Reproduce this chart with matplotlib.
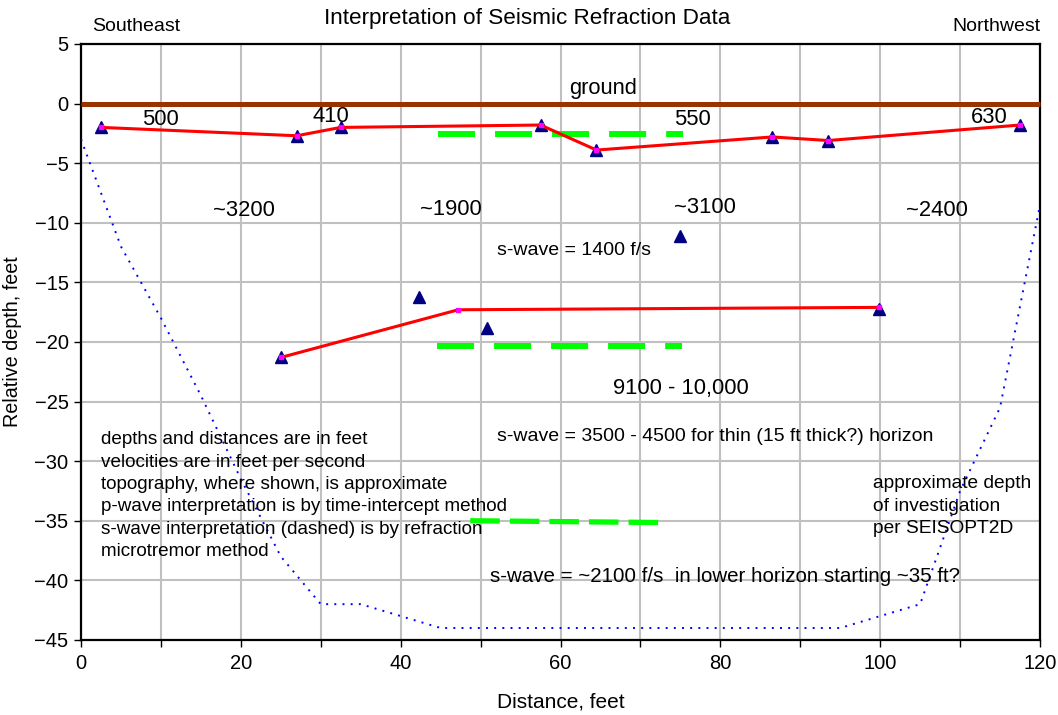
import numpy as np
import matplotlib.pyplot as plt

plt.rcParams['font.family'] = ['Liberation Sans', 'DejaVu Sans']

# ground surface
ground_x = [0, 120]
ground_y = [0, 0]

# p-wave refractor picks (triangles)
picks_x = [2.5, 27.0, 32.5, 57.5, 64.5, 86.5, 93.5, 117.5, 75.0, 42.3, 50.8, 25.0, 99.8]
picks_y = [-2.0, -2.7, -2.0, -1.8, -3.9, -2.8, -3.1, -1.8, -11.1, -16.2, -18.8, -21.3, -17.2]

# interpreted p-wave horizons
upper_x = [2.5, 27.0, 32.5, 57.5, 64.5, 86.5, 93.5, 117.5]
upper_y = [-2.0, -2.7, -2.0, -1.8, -3.9, -2.8, -3.1, -1.8]
lower_x = [25.0, 47.2, 99.8]
lower_y = [-21.3, -17.3, -17.1]

# s-wave horizons (dashed)
swave1_x = [44.7, 75.3]
swave1_y = [-2.55, -2.55]
swave2_x = [44.6, 75.2]
swave2_y = [-20.3, -20.3]
swave3_x = [48.7, 72.3]
swave3_y = [-35.0, -35.15]

# approximate depth of investigation
doi_x = [0, 5, 10, 15, 20, 25, 30, 35, 40, 45, 50, 55, 60, 65, 70, 75, 80, 85, 90, 95,
         100, 105, 110, 115, 120]
doi_y = [-3, -12, -18, -24.5, -31.5, -38, -42, -42, -43, -44, -44, -44, -44, -44, -44, -44,
         -44, -44, -44, -44, -43, -42, -32.5, -25.5, -8.5]

fig = plt.figure(figsize=(10.58, 7.15), dpi=100)
ax = fig.add_axes([0.0766, 0.105, 0.9064, 0.8335])

fs = 14.5

ax.plot(doi_x, doi_y, color='#0000ff', lw=1.4, linestyle=(0, (1, 3.2)), zorder=3)
ax.plot(ground_x, ground_y, color='#993300', lw=3.6, solid_capstyle='butt', zorder=4,
        clip_on=False)
ax.plot(picks_x, picks_y, '^', color='#000080', ms=8.5, zorder=5, linestyle='none')
ax.plot(upper_x, upper_y, color='#ff0000', lw=2.2, marker='s', ms=3, mfc='#ff00ff',
        mec='#ff00ff', zorder=6)
ax.plot(lower_x, lower_y, color='#ff0000', lw=2.2, marker='s', ms=3, mfc='#ff00ff',
        mec='#ff00ff', zorder=6)
ax.plot(swave1_x, swave1_y, color='#00ff00', lw=4.3, linestyle=(0, (6.2, 3.35)),
        dash_capstyle='butt', zorder=4)
ax.plot(swave2_x, swave2_y, color='#00ff00', lw=4.3, linestyle=(0, (6.2, 3.35)),
        dash_capstyle='butt', zorder=4)
ax.plot(swave3_x, swave3_y, color='#00ff00', lw=3.8, linestyle=(0, (5.6, 1.9)),
        dash_capstyle='butt', zorder=4)

ax.set_xlim(0, 120)
ax.set_ylim(-45, 5)
ax.set_xticks(np.arange(0, 121, 20))
ax.set_xticks(np.arange(10, 120, 20), minor=True)
ax.set_yticks(np.arange(-45, 6, 5))
ax.grid(True, which='both', color='#c0c0c0', lw=1.5)
ax.set_axisbelow(True)
ax.tick_params(axis='both', which='both', direction='out', length=5, width=1,
               labelsize=fs, pad=4)
ax.tick_params(axis='x', pad=5)
for s in ax.spines.values():
    s.set_linewidth(1.6)

ax.set_xlabel('Distance, feet', fontsize=15, labelpad=14)
ax.set_ylabel('Relative depth, feet', fontsize=14.2, labelpad=9)

ax.text(1.4, 6.5, 'Southeast', fontsize=14, va='center', ha='left', clip_on=False)
ax.text(120, 6.5, 'Northwest', fontsize=14, va='center', ha='right', clip_on=False)
ax.text(55.8, 7.1, 'Interpretation of Seismic Refraction Data', fontsize=16.2,
        va='center', ha='center', clip_on=False)

labels = [
    (65.3, 1.3, 'ground'),
    (9.9, -1.3, '500'),
    (31.2, -1.1, '410'),
    (76.5, -1.3, '550'),
    (113.6, -1.2, '630'),
    (20.4, -9.0, '~3200'),
    (46.3, -8.9, '~1900'),
    (78.1, -8.7, '~3100'),
    (107.1, -9.0, '~2400'),
    (75.0, -23.9, '9100 - 10,000'),
]
for x, y, t in labels:
    ax.text(x, y, t, fontsize=15.8, ha='center', va='center', zorder=7)

ax.text(52.1, -12.3, 's-wave = 1400 f/s', fontsize=14, ha='left', va='center', zorder=7)
ax.text(52.1, -27.9, 's-wave = 3500 - 4500 for thin (15 ft thick?) horizon', fontsize=14,
        ha='left', va='center', zorder=7)
ax.text(51.2, -39.7, 's-wave = ~2100 f/s  in lower horizon starting ~35 ft?', fontsize=14.8,
        ha='left', va='center', zorder=7)

notes = ('depths and distances are in feet\n'
         'velocities are in feet per second\n'
         'topography, where shown, is approximate\n'
         'p-wave interpretation is by time-intercept method\n'
         's-wave interpretation (dashed) is by refraction\n'
         'microtremor method')
ax.text(2.5, -32.9, notes, fontsize=13.6, ha='left', va='center', linespacing=1.42, zorder=7)
ax.text(99.1, -33.8, 'approximate depth\nof investigation\nper SEISOPT2D', fontsize=13.8,
        ha='left', va='center', linespacing=1.42, zorder=7)

fig.savefig('out.png', dpi=100)
